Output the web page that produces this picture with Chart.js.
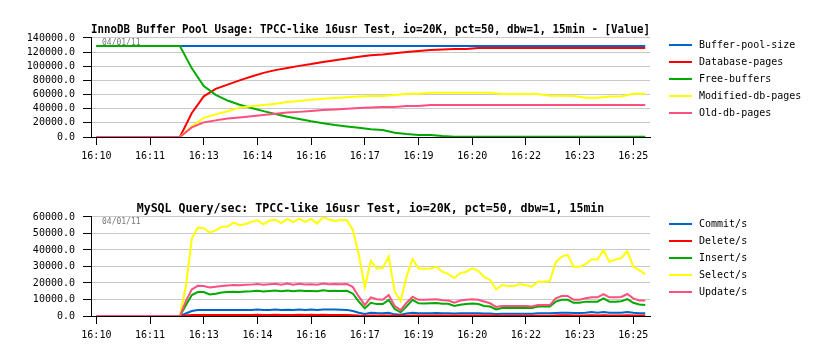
<!DOCTYPE html>
<html><head><meta charset="utf-8">
<script src="https://cdn.jsdelivr.net/npm/chart.js@4.4.1/dist/chart.umd.min.js"></script>
<style>
html,body{margin:0;padding:0;background:#fff;}
#wrap{position:relative;width:822px;height:358px;}
canvas{position:absolute;left:0;}
#c1{top:0}
#c2{top:179px}
</style></head><body>
<div id="wrap"><canvas id="c1" width="822" height="179"></canvas><canvas id="c2" width="822" height="179"></canvas></div>
<script>
// ---- tick labels (x axis, seconds from 16:10:00) ----
const tickSeconds = [0, 90, 180, 270, 360, 450, 540, 630, 720, 810, 900];
const tickLabels = ['16:10','16:11','16:13','16:14','16:16','16:17','16:19','16:20','16:22','16:23','16:25'];
const dateLabel = '04/01/11';

// ---- chart 1: InnoDB Buffer Pool Usage (20 s samples) ----
const poolTimes = [0,20,40,60,80,100,120,140,160,180,200,220,240,260,280,300,320,340,360,380,400,420,440,460,480,500,520,540,560,580,600,620,640,660,680,700,720,740,760,780,800,820,840,860,880,900,920];
const bufferPoolSize = [128500,128500,128500,128500,128500,128500,128500,128500,128500,128500,128500,128500,128500,128500,128500,128500,128500,128500,128500,128500,128500,128500,128500,128500,128500,128500,128500,128500,128500,128500,128500,128500,128500,128500,128500,128500,128500,128500,128500,128500,128500,128500,128500,128500,128500,128500,128500];
const databasePages = [0,0,0,0,0,0,0,0,34000,57500,68000,74000,80000,85500,90600,94500,97500,100500,103000,106000,108500,111000,113300,115500,116500,118500,120000,121500,123000,123600,124500,124500,125900,125900,125900,125900,125900,125900,125900,125900,125900,125900,125900,125900,125900,125900,125900];
const freeBuffers = [128500,128500,128500,128500,128500,128500,128500,128500,97000,72000,59500,51500,45500,41000,36600,32500,28500,25500,22300,19500,17000,15000,13000,10800,10000,6100,4200,2800,2800,1400,400,400,400,400,400,400,400,400,400,400,400,400,400,400,400,400,400];
const modifiedDbPages = [0,0,0,0,0,0,0,0,15000,27000,32000,36500,41500,43500,45100,47000,49300,51000,52500,54000,55000,56000,57200,58000,57800,59200,61000,61000,62500,62500,62500,62500,62500,62500,60600,60600,60600,60600,58200,58200,57800,55400,55400,57300,57300,61000,61000];
const oldDbPages = [0,0,0,0,0,0,0,0,13500,20700,23500,26000,27700,29400,31000,32700,34500,35500,36800,38000,39000,40000,41000,41800,42300,42300,43700,43700,45100,45100,45100,45100,45100,45100,45100,45100,45100,45100,45100,45100,45100,45100,45100,45100,45100,45100,45100];

// ---- chart 2: MySQL Query/sec (10 s samples) ----
const queryTimes = [0,10,20,30,40,50,60,70,80,90,100,110,120,130,140,150,160,170,180,190,200,210,220,230,240,250,260,270,280,290,300,310,320,330,340,350,360,370,380,390,400,410,420,430,440,450,460,470,480,490,500,510,520,530,540,550,560,570,580,590,600,610,620,630,640,650,660,670,680,690,700,710,720,730,740,750,760,770,780,790,800,810,820,830,840,850,860,870,880,890,900,910,920];
const commitPerSec = [0,0,0,0,0,0,0,0,0,0,0,0,0,0,0,
 1500,3000,3600,3600,3600,3600,3600,3700,3600,3600,
 3600,3700,4000,3600,3600,4000,3600,3800,3600,4000,
 3600,3900,3700,3900,3900,3900,3800,3700,3000,2000,
 1200,2000,1800,1700,2000,1000,800,1500,2000,1700,
 1700,1700,1800,1700,1600,1500,1600,1700,1700,1600,
 1500,1500,1200,1400,1400,1400,1400,1400,1400,1600,
 1600,1600,1800,2000,2000,1800,1800,2000,2400,2000,
 2400,1900,1900,2000,2400,1900,1700,1600];
const deletePerSec = [0,0,0,0,0,0,0,0,0,0,0,0,0,0,0,
 300,600,600,600,600,600,600,600,600,600,
 600,600,700,600,600,700,600,600,600,700,
 600,700,600,700,600,600,600,600,500,300,
 200,300,300,300,300,200,100,200,300,300,
 300,300,300,300,300,300,300,300,300,300,
 300,300,200,200,200,200,200,200,200,200,
 200,200,300,400,400,300,300,300,400,300,
 400,300,300,300,400,300,300,300];
const insertPerSec = [0,0,0,0,0,0,0,0,0,0,0,0,0,0,0,
 6500,12700,14500,14500,13000,13500,14200,14500,14700,14600,
 14900,15000,15300,14800,15100,15400,15000,15500,15000,15400,
 15100,15200,15000,15600,15200,15300,15200,15300,13500,8700,
 4600,8000,7200,7200,9800,4200,2200,5800,9800,7700,
 7500,7700,7800,7400,7400,6100,6800,7200,7500,7200,
 6100,5700,4000,4800,4800,4800,4800,4800,4800,5700,
 5700,5700,8700,9800,9800,8000,8000,8700,8700,8700,
 10700,8700,8700,8900,10200,8000,7000,6600];
const selectPerSec = [0,0,0,0,0,0,0,0,0,0,0,0,0,0,0,
 18000,46900,53500,53200,50500,51800,54000,54200,56500,55000,
 55700,57000,58000,55500,57800,58300,56300,58800,56800,59000,
 57000,58800,56000,60000,58400,57600,58200,58000,52000,37000,
 17500,33500,28800,29000,36000,15000,9000,24000,34500,28800,
 28600,28800,29800,26800,25400,23000,26000,26800,28800,27400,
 23600,21800,16100,18700,18100,18200,19300,18600,17700,20700,
 20700,21200,32500,36000,37000,29800,29800,31400,34200,34200,
 39800,32800,34200,35000,39300,29800,27800,25400];
const updatePerSec = [0,0,0,0,0,0,0,0,0,0,0,0,0,0,0,
 9000,16100,18300,18200,17300,17700,18200,18500,18800,18600,
 18900,19000,19400,18900,19200,19500,19000,19600,19000,19500,
 19100,19300,19000,19700,19300,19400,19300,19400,17500,11700,
 6600,11300,10200,9800,12700,6000,3600,8000,11700,9800,
 9800,10000,10200,9600,9400,8000,9400,9800,10200,9800,
 8800,7700,5500,6100,6100,6100,6100,6100,5700,6600,
 6600,6600,10700,12100,12100,9800,9800,10700,11300,11300,
 13300,11300,11300,11500,13300,10700,9400,9400];

const COLORS = ['#0066cc', '#ff0000', '#00aa00', '#ffff00', '#ff4f7f'];
const MONO = '"DejaVu Sans Mono", "Liberation Mono", monospace';

const sideLegend = {
  id: 'sideLegend',
  afterDraw(chart) {
    const ctx = chart.ctx, a = chart.chartArea;
    ctx.save();
    ctx.font = '10px ' + MONO;
    ctx.textBaseline = 'middle';
    ctx.textAlign = 'left';
    chart.data.datasets.forEach((d, i) => {
      const y = Math.round(a.top + 7.5 + i * 16.8);
      ctx.strokeStyle = d.borderColor;
      ctx.lineWidth = 2;
      ctx.beginPath();
      ctx.moveTo(a.right + 19, y);
      ctx.lineTo(a.right + 42, y);
      ctx.stroke();
      ctx.fillStyle = '#000';
      ctx.fillText(d.label, a.right + 49, y + 0.5);
    });
    ctx.restore();
  }
};
const dateStamp = {
  id: 'dateStamp',
  beforeDatasetsDraw(chart) {
    const ctx = chart.ctx, a = chart.chartArea;
    ctx.save();
    ctx.font = '8px ' + MONO;
    ctx.fillStyle = '#777';
    ctx.textBaseline = 'middle';
    ctx.fillText(dateLabel, a.left + 11, a.top + 5);
    ctx.restore();
  }
};

function makeChart(id, title, times, series, ymax, ystep) {
  return new Chart(document.getElementById(id), {
    type: 'line',
    data: {
      datasets: series.map((s, i) => ({
        label: s.label,
        data: s.values.map((v, k) => ({x: times[k], y: v})),
        borderColor: COLORS[i],
        backgroundColor: COLORS[i],
        borderWidth: 2,
        pointRadius: 0,
        tension: 0,
        order: -i
      }))
    },
    options: {
      responsive: false,
      animation: false,
      events: [],
      layout: {padding: {left: 0, right: 172, top: 23, bottom: 12}},
      plugins: {
        legend: {display: false},
        tooltip: {enabled: false},
        title: {
          display: true, text: title, fullSize: false, color: '#000',
          font: {family: MONO, size: 11.6, weight: 'bold'},
          padding: {top: 0, bottom: 1}
        }
      },
      scales: {
        x: {
          type: 'linear', min: -9, max: 928,
          grid: {drawOnChartArea: false, tickLength: 8, tickColor: '#000'},
          border: {color: '#000', width: 1},
          ticks: {
            color: '#000', font: {family: MONO, size: 10}, padding: 5,
            maxRotation: 0, autoSkip: false,
            callback: (v, idx) => tickLabels[idx]
          },
          afterBuildTicks: s => { s.ticks = tickSeconds.map(v => ({value: v})); },
          afterFit: s => { s.height = 30; }
        },
        y: {
          min: 0, max: ymax,
          grid: {color: '#c8c8c8', tickColor: '#000', tickLength: 8, lineWidth: 1},
          border: {color: '#000', width: 1},
          ticks: {
            stepSize: ystep, autoSkip: false, color: '#000', font: {family: MONO, size: 10}, padding: 8,
            callback: v => Number(v).toFixed(1)
          },
          afterFit: s => { s.width = 91; }
        }
      }
    },
    plugins: [sideLegend, dateStamp]
  });
}

makeChart('c1', 'InnoDB Buffer Pool Usage: TPCC-like 16usr Test, io=20K, pct=50, dbw=1, 15min - [Value]', poolTimes, [
  {label: 'Buffer-pool-size', values: bufferPoolSize},
  {label: 'Database-pages', values: databasePages},
  {label: 'Free-buffers', values: freeBuffers},
  {label: 'Modified-db-pages', values: modifiedDbPages},
  {label: 'Old-db-pages', values: oldDbPages}
], 140000, 20000);

makeChart('c2', 'MySQL Query/sec: TPCC-like 16usr Test, io=20K, pct=50, dbw=1, 15min', queryTimes, [
  {label: 'Commit/s', values: commitPerSec},
  {label: 'Delete/s', values: deletePerSec},
  {label: 'Insert/s', values: insertPerSec},
  {label: 'Select/s', values: selectPerSec},
  {label: 'Update/s', values: updatePerSec}
], 60000, 10000);
</script>
</body></html>
